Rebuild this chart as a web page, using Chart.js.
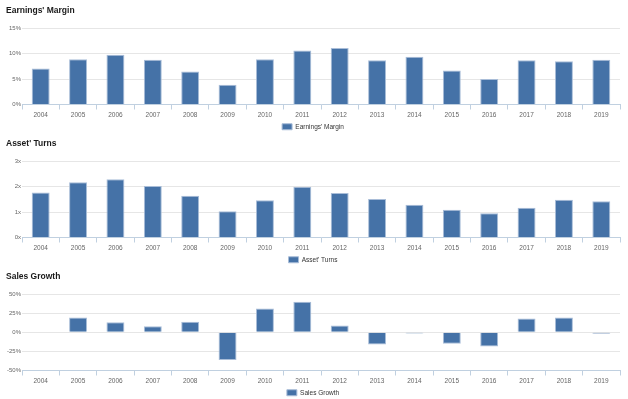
<!DOCTYPE html>
<html>
<head>
<meta charset="utf-8">
<script src="https://cdn.jsdelivr.net/npm/chart.js@4"></script>
<style>
  body { margin: 0; background: #fff; overflow: hidden; }
  .panel { position: absolute; left: 0; width: 628px; height: 140px; }
</style>
</head>
<body>
<div class="panel" style="top:0px"><canvas id="marginChart"></canvas></div>
<div class="panel" style="top:133px"><canvas id="turnsChart"></canvas></div>
<div class="panel" style="top:266px"><canvas id="growthChart"></canvas></div>
<script>
// Data
const years = ["2004", "2005", "2006", "2007", "2008", "2009", "2010", "2011",
               "2012", "2013", "2014", "2015", "2016", "2017", "2018", "2019"];
const earningsMargin = [7.1, 8.9, 9.8, 8.8, 6.5, 3.9, 8.9, 10.6, 11.1, 8.7, 9.4, 6.7, 5.0, 8.7, 8.5, 8.8];
const assetTurns = [1.77, 2.17, 2.29, 2.02, 1.64, 1.03, 1.46, 2.0, 1.75, 1.51, 1.29, 1.09, 0.95, 1.17, 1.48, 1.43];
const salesGrowth = [null, 19.6, 13.3, 8.0, 13.8, -36.4, 31.1, 40.0, 8.9, -16.0, -1.4, -15.0, -18.7, 18.2, 19.6, -1.8];

const marginTicks = [0, 5, 10, 15];
const turnsTicks = [0, 1, 2, 3];
const growthTicks = [-50, -25, 0, 25, 50];

const BAR_COLOR = "#4572A7";
const LABEL_COLOR = "#666666";
const FONT = "'Liberation Sans', Arial, sans-serif";

// Build one bar panel
const makeChart = (canvasId, title, label, values, ticks, suffix) => {
    const ctx = document.getElementById(canvasId).getContext("2d");
    new Chart(ctx, {
        type: "bar",
        data: {
            labels: years,
            datasets: [{
                label: label,
                data: values,
                backgroundColor: BAR_COLOR,
                borderColor: "#A9BDD8",
                borderWidth: 1,
                categoryPercentage: 1,
                barPercentage: 0.48
            }]
        },
        options: {
            responsive: false,
            animation: false,
            layout: { padding: { left: 6, right: 8, top: 0, bottom: 0 } },
            plugins: {
                title: {
                    display: true,
                    text: title,
                    align: "start",
                    color: "#1a1a1a",
                    font: { family: FONT, size: 8.5, weight: "bold" },
                    padding: { top: 6, bottom: 12 }
                },
                legend: {
                    display: true,
                    position: "bottom",
                    labels: {
                        boxWidth: 10,
                        boxHeight: 6,
                        padding: 2,
                        color: "#333333",
                        font: { family: FONT, size: 6.5 }
                    }
                },
                tooltip: { enabled: false }
            },
            scales: {
                x: {
                    offset: true,
                    grid: {
                        offset: true,
                        drawOnChartArea: false,
                        tickLength: 5,
                        color: "#C0D0E0"
                    },
                    border: { color: "#C0D0E0" },
                    ticks: {
                        color: LABEL_COLOR,
                        font: { family: FONT, size: 6.5 },
                        padding: 2,
                        maxRotation: 0,
                        autoSkip: false
                    },
                    afterFit: (scale) => { scale.height = 17; }
                },
                y: {
                    min: ticks[0],
                    max: ticks[ticks.length - 1],
                    afterBuildTicks: (scale) => { scale.ticks = ticks.map(v => ({ value: v })); },
                    grid: { color: "#E6E6E6", drawTicks: false },
                    border: { display: false },
                    ticks: {
                        color: LABEL_COLOR,
                        font: { family: FONT, size: 6 },
                        padding: 1,
                        callback: (v) => v + suffix
                    },
                    afterFit: (scale) => { scale.width = 16; }
                }
            }
        }
    });
};

const sizeCanvas = (id) => {
    const c = document.getElementById(id);
    c.width = 628;
    c.height = 140;
};

["marginChart", "turnsChart", "growthChart"].forEach(sizeCanvas);

makeChart("marginChart", "Earnings' Margin", "Earnings' Margin", earningsMargin, marginTicks, "%");
makeChart("turnsChart", "Asset' Turns", "Asset' Turns", assetTurns, turnsTicks, "x");
makeChart("growthChart", "Sales Growth", "Sales Growth", salesGrowth, growthTicks, "%");
</script>
</body>
</html>
